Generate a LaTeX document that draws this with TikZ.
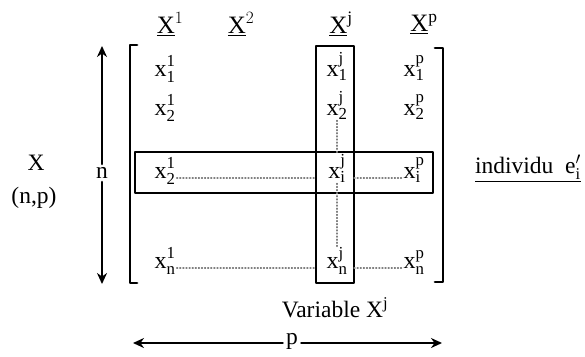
\documentclass[tikz,border=0pt]{standalone}
\usepackage{fontspec}
\setmainfont{Liberation Serif}
\usetikzlibrary{arrows.meta}
\newcommand{\xel}[2]{$\mathrm{x}^{\mathrm{#1}}_{\mathrm{#2}}$}
\begin{document}
\begin{tikzpicture}[x=1pt,y=-1pt,font=\fontsize{23.5}{26}\selectfont,line join=round,line cap=round,>={Stealth[length=11pt,width=10pt]},
  cell/.style={font=\fontsize{24}{26}\selectfont,inner sep=1pt,anchor=base},
  entete/.style={font=\fontsize{25}{28}\selectfont},
  trait/.style={line width=2.7pt},
  pointill/.style={dotted,gray,line width=1.1pt}]
\useasboundingbox (0,0) rectangle (585,356);
% en-tetes des colonnes
\node[entete] (X1) at (170,24) {$\underline{\mathrm{X}}^{1}$};
\node[entete] (X2) at (241,24) {$\underline{\mathrm{X}}^{2}$};
\node[entete] (Xj) at (341,24) {$\underline{\mathrm{X}}^{\mathrm{j}}$};
\node[entete] (Xp) at (424,24) {$\underline{\mathrm{X}}^{\mathrm{p}}$};
\node (X) at (36,163) {X};
\node (np) at (34,198) {(n,p)};
% fleche n
\node (n) at (102,173) {n};
\coordinate (nH) at (102,46);
\coordinate (nB) at (102,284);
\draw[->,trait] (n) -- (nH);
\draw[->,trait] (n) -- (nB);
% crochets
\coordinate (A) at (130,45);
\coordinate (B) at (130,283);
\coordinate (C) at (443,48);
\coordinate (D) at (443,282);
\draw[trait] ([xshift=7pt]A) -- (A) -- (B) -- ([xshift=7pt]B);
\draw[trait] ([xshift=-8pt]C) -- (C) -- (D) -- ([xshift=-8pt]D);
% elements
\node[cell] (x11) at (165,76) {\xel{1}{1}};
\node[cell] (x21) at (165,115) {\xel{1}{2}};
\node[cell] (xi1) at (165,178) {\xel{1}{2}};
\node[cell] (xn1) at (165,268) {\xel{1}{n}};
\foreach \c/\xx in {j/337,p/414} {
  \foreach \r/\yy in {1/76,2/115,i/178,n/268}
    \node[cell] (x\r\c) at (\xx,\yy) {\xel{\c}{\r}};
}
% individu et variable
\coordinate (L1) at (135,152);
\coordinate (L2) at (433,193);
\coordinate (C1) at (316,46);
\coordinate (C2) at (354,283);
\draw[trait] (L1) rectangle (L2);
\draw[trait] (C1) rectangle (C2);
\draw[pointill] (xi1.base east) -- (xi1.base east -| C1);
\draw[pointill] (xij.base east -| C2) -- (xip.base west);
\draw[pointill] (xn1.base east) -- (xn1.base east -| C1);
\draw[pointill] (xnj.base east -| C2) -- (xnp.base west);
\draw[pointill] (x2j.south) -- (xij.north);
\draw[pointill] (xij.south) -- (xnj.north);
\node (ind) at (528,168) {\underline{individu\hspace{0.5em}e$'_{\mathrm{i}}$}};
\node (var) at (335,308) {Variable $\mathrm{X}^{\mathrm{j}}$};
% fleche p
\node (p) at (292,341) {p};
\coordinate (pG) at (133,343);
\coordinate (pD) at (442,343);
\draw[->,trait] (p.west |- pG) -- (pG);
\draw[->,trait] (p.east |- pD) -- (pD);
\end{tikzpicture}
\end{document}
